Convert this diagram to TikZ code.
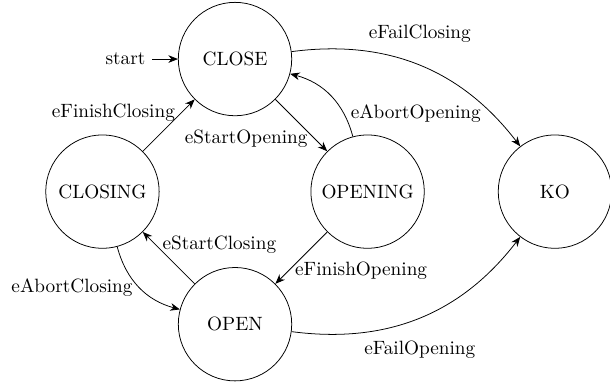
\documentclass[tikz,border=0pt]{standalone}
\usetikzlibrary{positioning,arrows.meta}
\begin{document}
\begin{tikzpicture}[>={Stealth[length=5pt,width=4pt]},
  stnode/.style={circle,draw,minimum size=2.07cm}]
\useasboundingbox (-1.87,-3.564) rectangle (9.265,3.498);
\node[stnode] (closing) at (0,0) {CLOSING};
\node[stnode] (close) at (2.42,2.42) {CLOSE};
\node[stnode] (opening) at (4.84,0) {OPENING};
\node[stnode] (open) at (2.42,-2.42) {OPEN};
\node[stnode] (ko) at (8.26,0) {KO};
\node[left=0.47cm of close] (start) {start};

\draw[->]  (start) edge (close);
\draw[->]  (close) edge node[near end,left] {eStartOpening} (opening);
\draw[->]  (opening) edge[bend right] node[near start,right] {eAbortOpening} (close);
\draw[->]  (closing) edge node[near end,left] {eFinishClosing} (close);
\draw[->]  (close) edge[bend left] node[above=3mm] {eFailClosing} (ko);
\draw[->]  (open) edge node[near end,right] {eStartClosing} (closing);
\draw[->]  (closing) edge[bend right] node[left] {eAbortClosing} (open);
\draw[->]  (opening) edge node[near end,right] {eFinishOpening} (open);
\draw[->]  (open) edge[bend right] node[below=3mm] {eFailOpening} (ko);
\end{tikzpicture}
\end{document}
